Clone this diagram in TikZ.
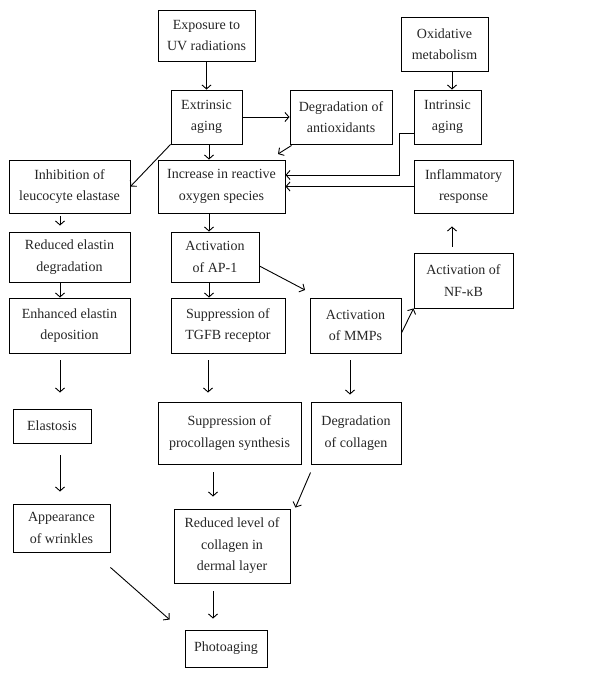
\documentclass[tikz,border=0pt]{standalone}
\usepackage{fontspec}
\setmainfont{Liberation Serif}
\usetikzlibrary{arrows.meta}

\begin{document}
\begin{tikzpicture}[x=1pt, y=-1pt, line width=0.9pt, >={Straight Barb[length=4pt,width=9pt]},
  font=\fontsize{14}{21.5}\selectfont,
  box/.style = {draw, align=center, inner sep=0pt, text=black!85}]
		\useasboundingbox (0,0) rectangle (611,677);
		\node[box, minimum width=97pt, minimum height=51pt] (expo) at (206.5,35.5) {Exposure to\\UV radiations};
		\node[box, minimum width=87pt, minimum height=54pt] (oxid) at (444.5,44) {Oxidative\\metabolism};
		\node[box, minimum width=71pt, minimum height=54pt] (extr) at (206.5,117) {Extrinsic\\aging};
		\node[box, minimum width=102pt, minimum height=54pt] (degant) at (341,117) {Degradation of\\antioxidants};
		\node[box, minimum width=67pt, minimum height=54pt] (intr) at (447.5,117) {Intrinsic\\aging};
		\node[box, minimum width=121pt, minimum height=53pt] (inhib) at (69.5,186.5) {Inhibition of\\leucocyte elastase};
		\node[box, minimum width=127pt, minimum height=53pt] (ros) at (221.5,186.5) {Increase in reactive\\oxygen species};
		\node[box, minimum width=99pt, minimum height=53pt] (infl) at (463.5,186.5) {Inflammatory\\response};
		\node[box, minimum width=121pt, minimum height=50pt] (redel) at (69.5,257) {Reduced elastin\\degradation};
		\node[box, minimum width=88pt, minimum height=50pt] (ap1) at (215,257) {Activation\\of AP-1};
		\node[box, minimum width=99pt, minimum height=55pt] (nfkb) at (463.5,280.5) {Activation of\\NF-κB};
		\node[box, minimum width=121pt, minimum height=55pt] (enhel) at (69.5,325.5) {Enhanced elastin\\deposition};
		\node[box, minimum width=114pt, minimum height=55pt] (tgfb) at (228,325.5) {Suppression of\\TGFB receptor};
		\node[box, minimum width=91pt, minimum height=55pt] (mmps) at (355.5,325.5) {Activation\\of MMPs};
		\node[box, minimum width=78pt, minimum height=34pt] (elast) at (52,426) {Elastosis};
		\node[box, minimum width=143pt, minimum height=62pt] (procol) at (229.5,433) {Suppression of\\procollagen synthesis};
		\node[box, minimum width=90pt, minimum height=62pt] (degcol) at (356,433) {Degradation\\of collagen};
		\node[box, minimum width=97pt, minimum height=48pt] (appear) at (61.5,528) {Appearance\\of wrinkles};
		\node[box, minimum width=116pt, minimum height=74pt] (redlev) at (232,546) {Reduced level of\\collagen in\\dermal layer};
		\node[box, minimum width=82pt, minimum height=37pt] (photo) at (226,648.5) {Photoaging};
		\coordinate (rosin) at (278,154);
		\coordinate (mmpin) at (305,290);
		
		\draw[->] (expo) -- (extr);
		\draw[->] ([xshift=7.5pt]oxid.south) -- ([xshift=7.5pt]oxid.south |- intr.north);
		\draw[->] (extr) -- (degant);
		\draw[->] ([xshift=2.5pt]extr.south) -- ([xshift=2.5pt]extr.south |- ros.north);
		\draw[->] ([xshift=2pt,yshift=-1pt]degant.south west) -- (rosin);
		\draw[->] (extr.south west) -- (inhib.east);
		\draw[->] ([yshift=-16pt]intr.west) -- ++(-14,0) |- ([yshift=11.5pt]ros.east);
		\draw[->] (infl) -- (ros);
		\draw[->] ([xshift=-11.5pt,yshift=6pt]nfkb.north) -- ([xshift=-11.5pt,yshift=-13pt]infl.south);
		\draw[->] ([xshift=-9.5pt,yshift=-3pt]inhib.south) -- ([xshift=-9.5pt,yshift=6pt]redel.north);
		\draw[->] ([xshift=-12.5pt]ros.south) -- ([xshift=-12.5pt]ros.south |- ap1.north);
		\draw[->] ([xshift=-9.5pt]redel.south) -- ([xshift=-9.5pt]redel.south |- enhel.north);
		\draw[->] ([xshift=-6pt]ap1.south) -- ([xshift=-6pt]ap1.south |- tgfb.north);
		\draw[->] ([yshift=-9pt]ap1.east) -- (mmpin);
		\draw[->] ([yshift=-7.5pt]mmps.east) -- (nfkb.south west);
		\draw[->] ([xshift=-9.5pt,yshift=-7pt]enhel.south) -- ([xshift=8pt,yshift=16pt]elast.north);
		\draw[->] ([xshift=-20pt,yshift=-7pt]tgfb.south) -- ([xshift=-21.5pt,yshift=9pt]procol.north);
		\draw[->] ([xshift=-5.5pt,yshift=-7pt]mmps.south) -- ([xshift=-6pt,yshift=7pt]degcol.north);
		\draw[->] ([xshift=8pt,yshift=-12pt]elast.south) -- ([xshift=-1.5pt,yshift=12pt]appear.north);
		\draw[->] ([xshift=-16.5pt,yshift=-8pt]procol.south) -- ([xshift=-19pt,yshift=12pt]redlev.north);
		\draw[->] ([yshift=-8pt]degcol.south west) -- ([xshift=5pt,yshift=1pt]redlev.north east);
		\draw[->] ([yshift=-15pt]appear.south east) -- ([xshift=-15pt,yshift=10pt]photo.north west);
		\draw[->] ([xshift=-19pt,yshift=-8pt]redlev.south) -- ([xshift=-13pt,yshift=11pt]photo.north);
	\end{tikzpicture}
\end{document}
